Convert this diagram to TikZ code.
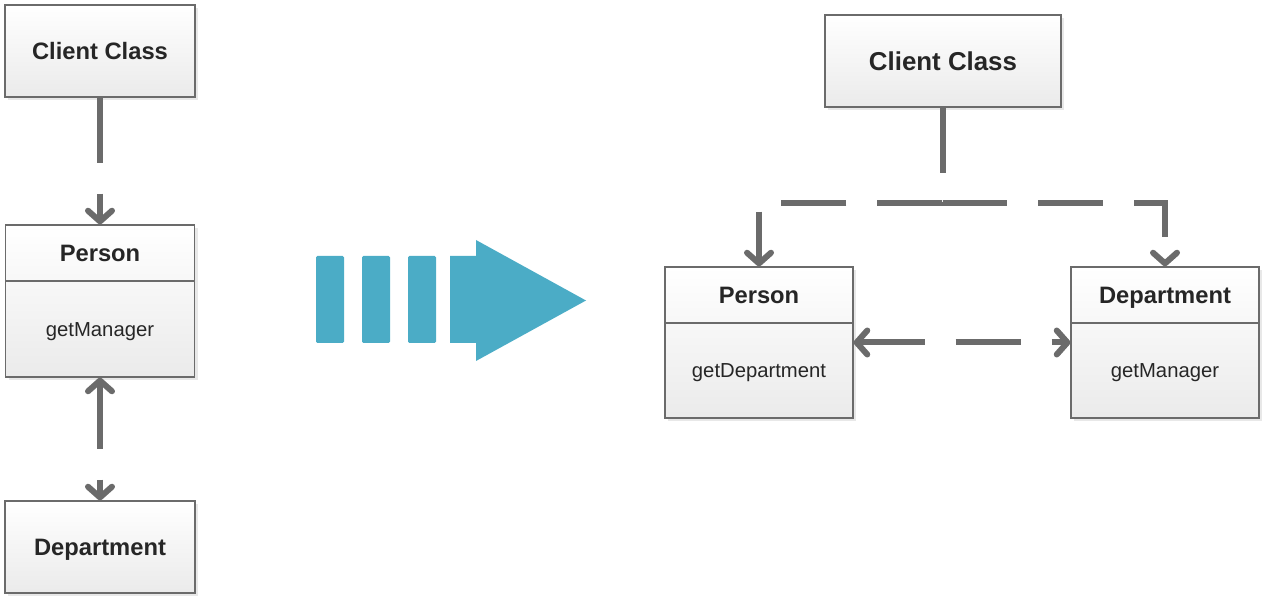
\documentclass[tikz,border=0pt]{standalone}
\usepackage{fontspec}
\setmainfont{Liberation Sans}
\usetikzlibrary{arrows.meta,shadows}
\definecolor{linegray}{HTML}{6B6B6B}
\definecolor{textgray}{HTML}{262626}
\definecolor{arrowteal}{HTML}{4BACC6}
\tikzset{
  classbox/.style={draw=linegray, line width=0.9pt, top color=white, bottom color=black!8,
    inner sep=0pt, drop shadow={shadow xshift=2.5pt, shadow yshift=-2.5pt, fill=black!9, opacity=1}},
  titletext/.style={font=\fontsize{17.8}{20}\selectfont\bfseries, text=textgray, inner sep=0pt,
    text height=12.7pt, text depth=0pt},
  bigtitle/.style={titletext, font=\fontsize{19.4}{22}\selectfont\bfseries, text height=13.9pt},
  methodtext/.style={font=\fontsize{15.2}{18}\selectfont, text=textgray, inner sep=0pt,
    text height=10.9pt, text depth=0pt},
  divider/.style={draw=linegray, line width=0.9pt},
  assoc/.style={draw=linegray, line width=4.5pt, dash pattern=on 48.75pt off 23.25pt},
  >={Straight Barb[round,length=8pt,width=18pt]}
}
\begin{document}
\begin{tikzpicture}[x=0.75pt,y=-0.75pt]
\useasboundingbox (0,0) rectangle (1264,598);
% before
\node[classbox, titletext, minimum width=142.5pt, minimum height=69pt] (lclient) at (100,51) {Client Class};
\node[classbox, minimum width=141.75pt, minimum height=114pt] (lperson) at (100,301) {};
\node[titletext, minimum width=141.75pt, minimum height=42pt, anchor=north] (lpersonhd) at (lperson.north) {Person};
\node[methodtext, minimum width=141.75pt, minimum height=72pt, anchor=north] (lpersonbd) at (lpersonhd.south) {getManager};
\draw[divider] (lpersonhd.south west) -- (lpersonhd.south east);
\node[classbox, titletext, minimum width=142.5pt, minimum height=69pt] (ldept) at (100,547) {Department};
\draw[assoc,->] (lclient.south) -- (lperson.north);
\draw[assoc,<->] (lperson.south) -- (ldept.north);
% refactoring arrow
\foreach \x in {316,362,408}
  \fill[arrowteal, rounded corners=1pt] (\x,256) rectangle ++(28,87);
\fill[arrowteal] (450,256) -- (476,256) -- (476,240) -- (586,300.5) -- (476,361) -- (476,343) -- (450,343) -- cycle;
% after
\node[classbox, bigtitle, minimum width=177pt, minimum height=69pt] (rclient) at (943,61) {Client Class};
\node[classbox, minimum width=141pt, minimum height=113.25pt] (rperson) at (759,342.5) {};
\node[titletext, minimum width=141pt, minimum height=42pt, anchor=north] (rpersonhd) at (rperson.north) {Person};
\node[methodtext, minimum width=141pt, minimum height=71.25pt, anchor=north] (rpersonbd) at (rpersonhd.south) {getDepartment};
\draw[divider] (rpersonhd.south west) -- (rpersonhd.south east);
\node[classbox, minimum width=141pt, minimum height=113.25pt] (rdept) at (1165,342.5) {};
\node[titletext, minimum width=141pt, minimum height=42pt, anchor=north] (rdepthd) at (rdept.north) {Department};
\node[methodtext, minimum width=141pt, minimum height=71.25pt, anchor=north] (rdeptbd) at (rdepthd.south) {getManager};
\draw[divider] (rdepthd.south west) -- (rdepthd.south east);
\coordinate (bus) at (943,203);
\draw[assoc,->] (rclient.south) -- (bus) -| (rperson.north);
\draw[assoc,->,dash phase=1pt] (rclient.south) -- (bus) -| (rdept.north);
\draw[assoc,<->] (rperson.east) -- (rdept.west);
\end{tikzpicture}
\end{document}
